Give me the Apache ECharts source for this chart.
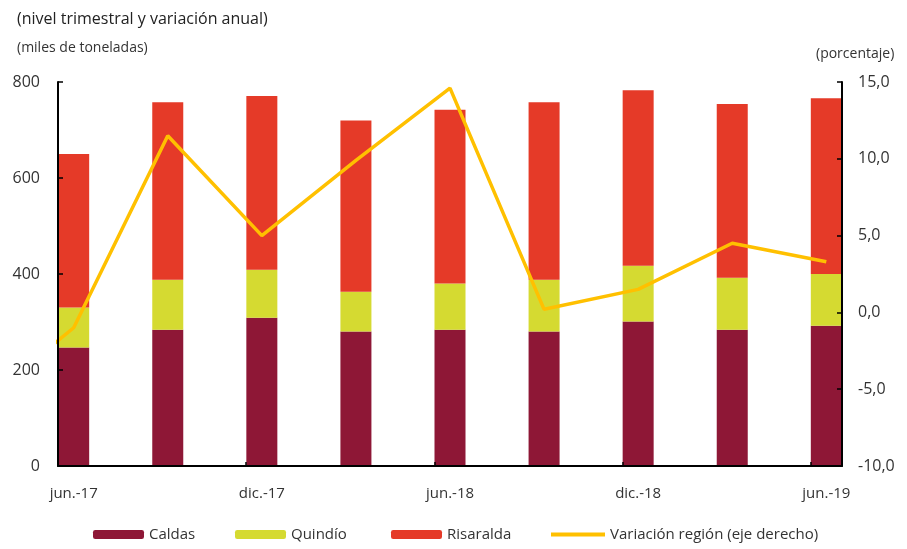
<!DOCTYPE html>
<html>
<head>
<meta charset="utf-8">
<script src="https://cdn.jsdelivr.net/npm/echarts@6/dist/echarts.min.js"></script>
<style>
html,body{margin:0;padding:0;background:#fff;}
#c{width:907px;height:549px;}
</style>
</head>
<body>
<div id="c"></div>
<script>
// Data
const categories = ['jun.-17','sep.-17','dic.-17','mar.-18','jun.-18','sep.-18','dic.-18','mar.-19','jun.-19'];
const caldas    = [247, 284, 309, 280, 284, 280, 301, 284, 292];
const quindio   = [ 83, 104, 100,  83,  96, 108, 116, 108, 108];
const risaralda = [320, 370, 362, 357, 362, 370, 366, 362, 366];
const variacion = [-1.0, 11.5, 5.0, 9.9, 14.6, 0.2, 1.5, 4.5, 3.3];
// previous quarter (mar.-17), only the entering segment of the line is visible
const prevQuarter = 'mar.-17';
const prevVariacion = -6.0;
const labelCategories = ['jun.-17','dic.-17','jun.-18','dic.-18','jun.-19'];
const leftTicks = [0, 200, 400, 600, 800];
const rightTicks = [-10, -5, 0, 5, 10, 15];

const FONT = 'Open Sans';
const TXT = '#333333';

const labelIdx = labelCategories.map(c => categories.indexOf(c));
const half = 1/6;

// value first so that the stack is computed on the vertical dimension
function barData(arr){ return arr.map((v,i)=>[v, i]); }
const lineData = [[-1, prevVariacion]].concat(variacion.map((v,i)=>[i, v]));

const chart = echarts.init(document.getElementById('c'), null, {renderer:'canvas'});
const legendBase = {
  orient:'horizontal', bottom: 2, itemWidth: 51, itemHeight: 9, itemGap: 6,
  textStyle:{fontFamily:FONT, fontSize:15, color:TXT}
};
const barCommon = {type:'bar', stack:'t', barWidth:31, yAxisIndex:0, encode:{x:1, y:0}};
chart.setOption({
  animation:false,
  textStyle:{fontFamily:FONT},
  title:[
    {text:'(nivel trimestral y variación anual)', left:12, top:6, textStyle:{fontFamily:FONT, fontSize:16, fontWeight:500, color:'#222'}},
    {text:'(miles de toneladas)', left:12, top:36, textStyle:{fontFamily:FONT, fontSize:14, fontWeight:'normal', color:TXT}},
    {text:'(porcentaje)', left:811, top:42, textStyle:{fontFamily:FONT, fontSize:14, fontWeight:'normal', color:TXT}}
  ],
  legend:[
    Object.assign({}, legendBase, {left:88, data:['Caldas']}),
    Object.assign({}, legendBase, {left:230, data:['Quindío']}),
    Object.assign({}, legendBase, {left:386, data:['Risaralda']}),
    Object.assign({}, legendBase, {left:546, itemWidth:54, itemHeight:4,
      data:[{name:'Variación región (eje derecho)', icon:'rect'}]})
  ],
  grid:{left:58, right:65, top:82, bottom:83, containLabel:false},
  xAxis:{
    type:'value', min:-half, max:categories.length-1+half,
    z:10,
    axisLine:{show:true, onZero:false, lineStyle:{color:'#000', width:2}},
    axisTick:{show:true, inside:true, length:4, lineStyle:{color:'#000', width:1.5},
      customValues: labelIdx.slice(1).map(i => i - half)},
    axisLabel:{show:true, customValues: labelIdx, margin:20,
      fontFamily:FONT, fontSize:15, color:TXT,
      formatter: v => categories[Math.round(v)]},
    splitLine:{show:false}
  },
  yAxis:[
    {type:'value', min:leftTicks[0], max:leftTicks[leftTicks.length-1], interval:200, position:'left', z:10,
     axisLine:{show:true, onZero:false, lineStyle:{color:'#000', width:2}},
     axisTick:{show:true, inside:true, length:5, lineStyle:{color:'#000', width:1.5}},
     axisLabel:{margin:18, fontFamily:FONT, fontSize:16, color:TXT},
     splitLine:{show:false}},
    {type:'value', min:rightTicks[0], max:rightTicks[rightTicks.length-1], interval:5, position:'right', z:10,
     axisLine:{show:true, onZero:false, lineStyle:{color:'#000', width:2}},
     axisTick:{show:true, inside:true, length:5, lineStyle:{color:'#000', width:1.5}},
     axisLabel:{margin:16, fontFamily:FONT, fontSize:16, color:TXT,
       formatter: v => v.toFixed(1).replace('.', ',')},
     splitLine:{show:false}}
  ],
  series:[
    Object.assign({name:'Caldas', data:barData(caldas), itemStyle:{color:'#8E1736'}}, barCommon),
    Object.assign({name:'Quindío', data:barData(quindio), itemStyle:{color:'#D5DA31'}}, barCommon),
    Object.assign({name:'Risaralda', data:barData(risaralda), itemStyle:{color:'#E53A28'}}, barCommon),
    {name:'Variación región (eje derecho)', type:'line', yAxisIndex:1, data:lineData,
     symbol:'none', clip:true, z:5,
     lineStyle:{color:'#FFC000', width:3.5}, itemStyle:{color:'#FFC000'}}
  ]
});
</script>
</body>
</html>
